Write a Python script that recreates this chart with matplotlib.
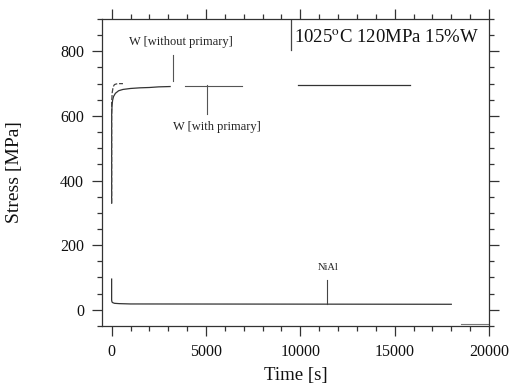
import matplotlib
matplotlib.use("Agg")
import matplotlib.pyplot as plt
from matplotlib.ticker import MultipleLocator

plt.rcParams['font.family'] = ['Liberation Serif', 'DejaVu Serif']
plt.rcParams['mathtext.fontset'] = 'stix'

# --- data ---
w_with_t = [0, 0, 20, 50, 100, 200, 370, 600, 1000, 1500, 2000, 2500, 3100]
w_with_s = [330, 600, 630, 648, 660, 670, 678, 682, 685, 687, 688, 690, 691]
w_with_late_t = [3900, 6900]
w_with_late_s = [693, 693]

w_without_t = [0, 0, 30, 80, 150, 250, 400, 600]
w_without_s = [330, 640, 672, 690, 697, 699, 700, 700]
w_without_late_t = [9900, 15800]
w_without_late_s = [697, 697]

nial_t = [0, 0, 20, 60, 150, 400, 1000, 18000]
nial_s = [95, 30, 24, 22, 20, 19, 18, 17]

tail_t = [18500, 20000]
tail_s = [-45, -45]

fig = plt.figure(figsize=(5.11, 3.88), dpi=100)
ax = fig.add_axes([0.2, 0.16, 0.757, 0.791])

lc = '#333333'
ax.plot(w_with_t, w_with_s, color=lc, lw=0.9)
ax.plot(w_with_late_t, w_with_late_s, color='#555555', lw=0.8)
ax.plot(w_without_t, w_without_s, color='#444444', lw=0.9, ls=(0, (4, 1.5)))
ax.plot(w_without_late_t, w_without_late_s, color=lc, lw=0.9)
ax.plot(nial_t, nial_s, color=lc, lw=0.9)
ax.plot(tail_t, tail_s, color='#777777', lw=0.8)

# annotation pointers
ax.plot([3260, 3260], [788, 707], color='#555555', lw=0.8)
ax.plot([5050, 5050], [695, 605], color='#555555', lw=0.8)
ax.plot([11420, 11420], [93, 19], color='#444444', lw=0.8)
ax.plot([9530, 9530], [900, 803], color='#444444', lw=0.9)

ax.text(3650, 828, 'W [without primary]', fontsize=9, ha='center', va='center', color='#222222')
ax.text(5600, 567, 'W [with primary]', fontsize=9, ha='center', va='center', color='#222222')
ax.text(11470, 130, 'NiAl', fontsize=7.5, ha='center', va='center', color='#222222')
ax.text(9680, 840, '1025$^{\\mathrm{o}}$C 120MPa 15%W', fontsize=13.5, ha='left', va='center', color='#111111')

ax.set_xlim(-500, 20000)
ax.set_ylim(-50, 900)
ax.xaxis.set_major_locator(MultipleLocator(5000))
ax.xaxis.set_minor_locator(MultipleLocator(1000))
ax.yaxis.set_major_locator(MultipleLocator(200))
ax.yaxis.set_minor_locator(MultipleLocator(50))
ax.tick_params(which='both', direction='out', top=True, right=True, colors='#333333',
               labelcolor='#111111', labelsize=11.5, width=0.9, pad=6)
ax.tick_params(which='major', length=7)
ax.tick_params(which='minor', length=3.5)
for s in ax.spines.values():
    s.set_color('#333333')
    s.set_linewidth(0.9)

ax.set_xlabel('Time [s]', fontsize=13.5, color='#111111', va='center')
ax.xaxis.set_label_coords(0.5, -0.16)
ax.set_ylabel('Stress [MPa]', fontsize=14, color='#111111', va='center')
ax.yaxis.set_label_coords(-0.227, 0.5)

fig.savefig('out.png', dpi=100)
